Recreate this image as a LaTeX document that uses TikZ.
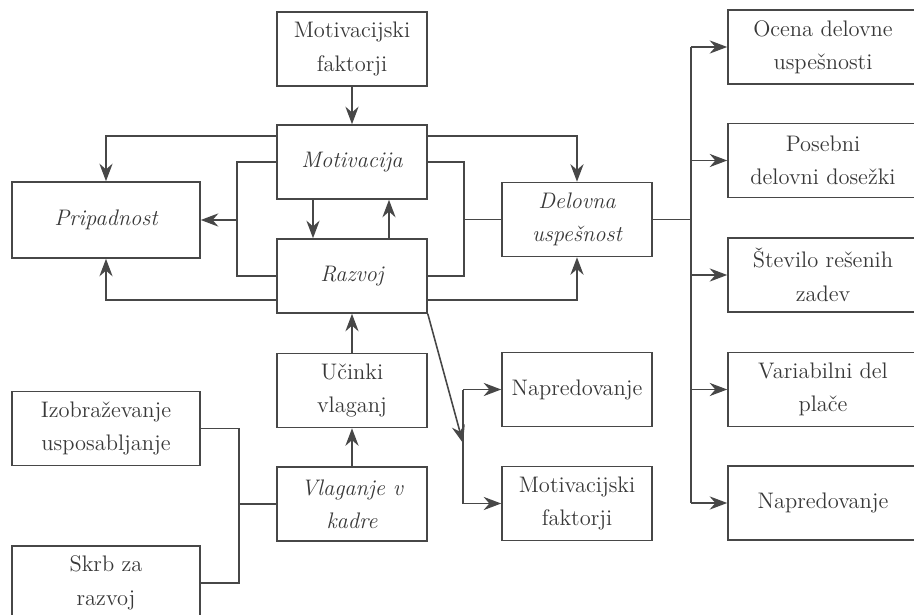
\documentclass[tikz,border=0pt]{standalone}
\usepackage{tikz}
\usetikzlibrary{arrows.meta}
\usetikzlibrary{positioning,calc}

\begin{document}
\begin{tikzpicture} [x=0.02cm, y=-0.02cm, black!72, line width=0.9pt,
      box/.style={draw, rectangle, minimum width=3cm, minimum height=1.48cm,
          align=center, text=black!78, font=\fontsize{12.8}{19}\selectfont},
      wide/.style={box, minimum width=3.76cm},
      side/.style={box, minimum width=3.8cm},
      arr/.style={-{Stealth[length=10pt,width=7.5pt]}}]

      \useasboundingbox (0,0) rectangle (914,615);

      % middle column
      \node[box] (mf) at (352,49) {Motivacijski\\faktorji};
      \node[box] (mot) at (352,162) {\itshape Motivacija};
      \node[box] (razv) at (352,276) {\itshape Razvoj};
      \node[box] (uc) at (352,390.5) {Učinki\\vlaganj};
      \node[box] (vk) at (352,504) {\itshape Vlaganje v\\\itshape kadre};

      % left column
      \node[wide, minimum height=1.52cm] (prip) at (106,220) {\itshape Pripadnost};
      \node[wide] (izo) at (106,428.5) {Izobraževanje\\usposabljanje};
      \node[wide] (skrb) at (106,583) {Skrb za\\razvoj};

      % second column
      \node[box] (del) at (577,219.5) {\itshape Delovna\\\itshape uspešnost};
      \node[box] (nap) at (577,389.5) {Napredovanje};
      \node[box] (mf2) at (577,503.5) {Motivacijski\\faktorji};

      % right column
      \node[side] (oc) at (823,47) {Ocena delovne\\uspešnosti};
      \node[side] (pos) at (823,160.5) {Posebni\\delovni dosežki};
      \node[side] (stev) at (823,275) {Število rešenih\\zadev};
      \node[side] (var) at (823,389.5) {Variabilni del\\plače};
      \node[side] (napr) at (823,503) {Napredovanje};

      \coordinate (ml) at ([xshift=-0.78cm]mot.west);
      \coordinate (mr) at ([xshift=0.72cm]mot.east);
      \coordinate (dr) at ([xshift=0.76cm]del.east);
      \coordinate (ls) at ([xshift=0.76cm]izo.east);
      \coordinate (nv) at (463,443);

      \draw[arr] (mf.south) -- (mot.north);
      \draw[arr] ([yshift=-0.24cm]mot.north west) -| (prip.north);
      \draw[arr] ([yshift=-0.24cm]mot.north east) -| (del.north);
      \draw[arr] ([yshift=0.28cm]razv.south west) -| (prip.south);
      \draw[arr] ([yshift=0.28cm]razv.south east) -| (del.south);
      \draw[arr] ([xshift=-0.78cm]mot.south) -- ([xshift=-0.78cm]razv.north);
      \draw[arr] ([xshift=0.74cm]razv.north) -- ([xshift=0.74cm]mot.south);

      \draw (mot.west) -- (ml) |- (razv.west);
      \draw[arr] (ml |- prip.east) -- (prip.east);
      \draw (mot.east) -- (mr) |- (razv.east);
      \draw (mr |- del.west) -- (del.west);

      \draw (del.east) -- (dr);
      \draw (dr |- oc.west) -- (dr |- napr.west);
      \foreach \n in {oc,pos,stev,var,napr}
          \draw[arr] (dr |- \n.west) -- (\n.west);

      \draw[arr] (razv.south east) -- (nv);
      \draw (nv |- nap.west) -- (nv |- mf2.west);
      \draw[arr] (nv |- nap.west) -- (nap.west);
      \draw[arr] (nv |- mf2.west) -- (mf2.west);

      \draw[arr] (uc.north) -- (razv.south);
      \draw[arr] (vk.north) -- (uc.south);

      \draw (izo.east) -- (ls) |- (skrb.east);
      \draw (ls |- vk.west) -- (vk.west);
\end{tikzpicture}
\end{document}
